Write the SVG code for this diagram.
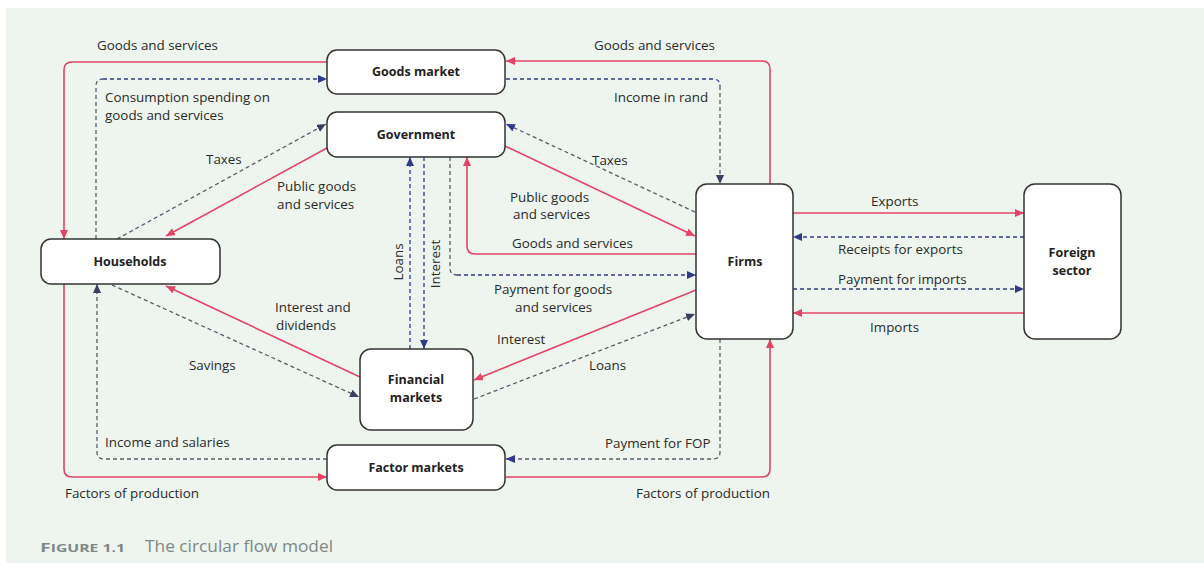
<svg xmlns="http://www.w3.org/2000/svg" width="1204" height="563" viewBox="0 0 1204 563">
<style>
.node rect{fill:#fff;stroke:#333;stroke-width:1.5}
.nl{font-family:"Open Sans","Noto Sans",sans-serif;font-weight:bold;font-size:12.5px;fill:#222;text-anchor:middle}
.lb{font-family:"Open Sans","Noto Sans",sans-serif;font-size:13.4px;fill:#2a2a2a}
.red{fill:none;stroke:#e34466;stroke-width:1.6;marker-end:url(#ar)}
.nv{fill:none;stroke:#2f3a8a;stroke-width:1.3;stroke-dasharray:4 3}
.gr{fill:none;stroke:#555c6e;stroke-width:1.3;stroke-dasharray:4 3}
.an{marker-end:url(#an)}
.ag{marker-end:url(#ag)}
.cap{font-family:"Open Sans","Noto Sans",sans-serif;fill:#808787}
</style>
<defs>
<marker id="ar" markerUnits="userSpaceOnUse" markerWidth="9" markerHeight="8" refX="9" refY="4" orient="auto"><path d="M0,0 L9,4 L0,8 z" fill="#e34466"/></marker>
<marker id="an" markerUnits="userSpaceOnUse" markerWidth="9" markerHeight="8" refX="9" refY="4" orient="auto"><path d="M0,0 L9,4 L0,8 z" fill="#2f3a8a"/></marker>
<marker id="ag" markerUnits="userSpaceOnUse" markerWidth="9" markerHeight="8" refX="9" refY="4" orient="auto"><path d="M0,0 L9,4 L0,8 z" fill="#3a4060"/></marker>
</defs>
<rect x="0" y="0" width="1204" height="563" fill="#fff"/>
<rect x="6" y="8" width="1198" height="555" fill="#edf5ee"/>

<g id="connectors">
<path class="red" d="M770,184 V69 Q770,61 762,61 H506"/>
<path class="red" d="M327,62 H72 Q64,62 64,70 V239"/>
<path class="red" d="M64,284 V469 Q64,477 72,477 H327"/>
<path class="red" d="M506,477 H762 Q770,477 770,469 V339"/>
<path class="red" d="M505,146 L695,236"/>
<path class="red" d="M327,148 L166,236"/>
<path class="red" d="M696,254 H475 Q467,254 467,246 V157"/>
<path class="red" d="M696,290 L474,380"/>
<path class="red" d="M360,377 L166,286"/>
<path class="red" d="M793,213 H1024"/>
<path class="red" d="M1024,313 H793"/>

<path class="gr" d="M96,239 V86 Q96,79 103,79"/>
<path class="nv an" d="M103,79 H327"/>
<path class="nv" d="M506,79 H713 Q720,79 720,86"/>
<path class="gr ag" d="M720,86 V184"/>
<path class="gr ag" d="M117,239 L326,124"/>
<path class="gr an" d="M695,212 L506,124"/>
<path class="nv an" d="M410,349 V157"/>
<path class="nv an" d="M424,157 V349"/>
<path class="gr" d="M450,157 V268 Q450,275 457,275"/>
<path class="nv an" d="M457,275 H696"/>
<path class="gr ag" d="M112,285 L359,397"/>
<path class="gr ag" d="M474,399 L695,314"/>
<path class="gr an" d="M720,339 V452 Q720,459 713,459 H506"/>
<path class="gr ag" d="M327,459 H104 Q97,459 97,452 V284"/>
<path class="nv an" d="M1024,237 H793"/>
<path class="nv an" d="M793,289 H1024"/>
</g>

<g id="labels">
<text class="lb" x="97" y="50">Goods and services</text>
<text class="lb" x="594" y="50">Goods and services</text>
<text class="lb" x="105" y="102">Consumption spending on</text>
<text class="lb" x="105" y="120">goods and services</text>
<text class="lb" x="614" y="102">Income in rand</text>
<text class="lb" x="206" y="164">Taxes</text>
<text class="lb" x="592" y="165">Taxes</text>
<text class="lb" x="277" y="191">Public goods</text>
<text class="lb" x="277" y="209">and services</text>
<text class="lb" x="510" y="202">Public goods</text>
<text class="lb" x="513" y="219">and services</text>
<text class="lb" x="512" y="248">Goods and services</text>
<text class="lb" x="494" y="294">Payment for goods</text>
<text class="lb" x="515" y="312">and services</text>
<text class="lb" x="497" y="344">Interest</text>
<text class="lb" x="589" y="370">Loans</text>
<text class="lb" x="275" y="312">Interest and</text>
<text class="lb" x="276" y="330">dividends</text>
<text class="lb" x="189" y="370">Savings</text>
<text class="lb" x="105" y="447">Income and salaries</text>
<text class="lb" x="605" y="448">Payment for FOP</text>
<text class="lb" x="65" y="498">Factors of production</text>
<text class="lb" x="636" y="498">Factors of production</text>
<text class="lb" x="871" y="206">Exports</text>
<text class="lb" x="838" y="254">Receipts for exports</text>
<text class="lb" x="838" y="284">Payment for imports</text>
<text class="lb" x="870" y="332">Imports</text>
<text class="lb" text-anchor="middle" transform="translate(403,262) rotate(-90)">Loans</text>
<text class="lb" text-anchor="middle" transform="translate(440,264) rotate(-90)">Interest</text>
</g>

<g id="goods-market" class="node"><rect x="327" y="50" width="178" height="44" rx="10"/><text class="nl" x="416" y="76">Goods market</text></g>
<g id="government" class="node"><rect x="327" y="112" width="178" height="45" rx="10"/><text class="nl" x="416" y="139">Government</text></g>
<g id="households" class="node"><rect x="41" y="239" width="179" height="45" rx="10"/><text class="nl" x="130" y="266">Households</text></g>
<g id="firms" class="node"><rect x="696" y="184" width="97" height="155" rx="11"/><text class="nl" x="745" y="266">Firms</text></g>
<g id="foreign-sector" class="node"><rect x="1024" y="184" width="97" height="155" rx="11"/><text class="nl" x="1072" y="257">Foreign</text><text class="nl" x="1072" y="275">sector</text></g>
<g id="financial-markets" class="node"><rect x="360" y="349" width="113" height="81" rx="11"/><text class="nl" x="416" y="384">Financial</text><text class="nl" x="416" y="402">markets</text></g>
<g id="factor-markets" class="node"><rect x="327" y="445" width="178" height="45" rx="10"/><text class="nl" x="416" y="472">Factor markets</text></g>

<g id="caption">
<text class="cap" x="40" y="552" font-size="13" font-weight="bold" textLength="85" lengthAdjust="spacingAndGlyphs">F<tspan font-size="10.5">IGURE 1.1</tspan></text>
<text class="cap" x="145" y="552" font-size="16" textLength="188" lengthAdjust="spacingAndGlyphs">The circular flow model</text>
</g>
</svg>
